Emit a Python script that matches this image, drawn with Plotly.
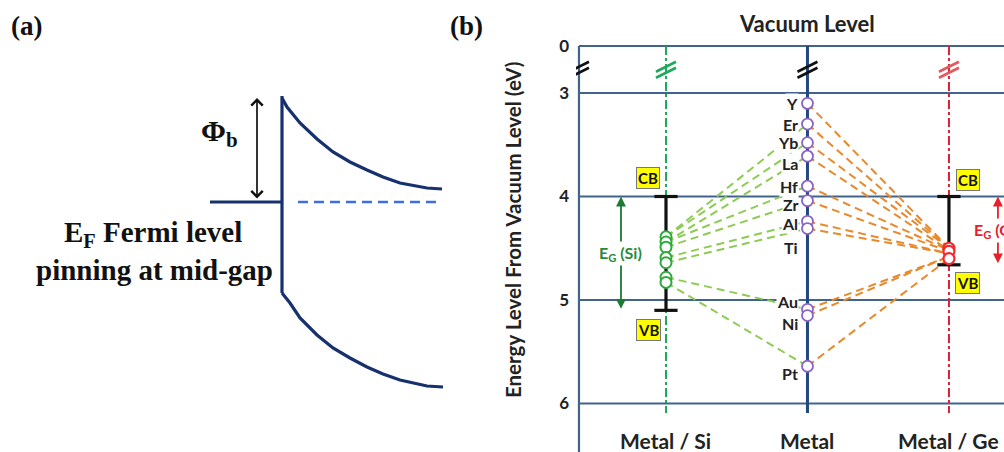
import plotly.graph_objects as go

W, H = 1004, 452

# ---------------- panel (a): schematic band diagram (panel pixel units) ----------------
cb_x = [282, 287, 300, 317, 333, 350, 367, 383, 400, 427, 442]
cb_y = [98, 107, 123, 139, 152, 162, 170, 177, 183, 188, 189]
vb_x = [282, 290, 300, 317, 333, 350, 367, 383, 400, 427, 443]
vb_y = [293, 303, 318, 335, 348, 358, 367, 374, 380, 386, 387]
junction_x = [282, 282]
junction_y = [96, 293]
metal_ef_x = [210, 282]
semi_ef_x = [298, 437]
ef_y = [202, 202]
phi_x = 257
phi_y = [98, 200]

# ---------------- panel (b): energy levels (eV below vacuum) ----------------
metals = ["Y", "Er", "Yb", "La", "Hf", "Zr", "Al", "Ti", "Au", "Ni", "Pt"]
metal_level = [3.10, 3.30, 3.48, 3.61, 3.90, 4.04, 4.24, 4.31, 5.09, 5.15, 5.64]
label_offset = [0, 0, 0, 7, 0, 4, 2, 19, -8, 8, 7]          # label nudge, px
si_pinned = [None, 4.39, 4.39, 4.44, 4.44, 4.49, 4.59, 4.64, 4.78, None, 4.83]
ge_pinned = [4.50, 4.50, 4.50, 4.52, 4.52, 4.53, 4.55, 4.55, 4.58, 4.58, 4.60]
si_points = [4.39, 4.44, 4.49, 4.59, 4.64, 4.78, 4.83]
ge_points = [4.50, 4.53, 4.60]
si_cb, si_vb = 4.0, 5.1
ge_cb, ge_vb = 4.0, 4.66
columns = ["Metal / Si", "Metal", "Metal / Ge"]
col_x = [0, 1, 2]
tick_vals = [0, 3, 4, 5, 6]

VAC_POS = 2.546          # where the (broken) 0 eV level is drawn
Y_RANGE = [6.4686, 2.1014]
X_LEFT_AXIS = -0.615
X_RANGE = [-0.636, 2.389]
LINE_BOTTOM = 6.092

def disp(v):
    return VAC_POS if v == 0 else v

NAVY = "#17306e"
GRID = "#41648f"
METAL_LINE = "#23487e"
SI_GREEN = "#1fa85a"
SI_LINK = "#8dcb55"
SI_MARK = "#2faa3c"
GE_RED = "#d8203a"
GE_LINK = "#e8892c"
PURPLE = "#8a63c4"
SANS = "Lato"
SERIF = "Liberation Serif"

fig = go.Figure()

# ---- panel (a) traces ----
for xs, ys in [(cb_x, cb_y), (vb_x, vb_y), (junction_x, junction_y), (metal_ef_x, ef_y)]:
    fig.add_trace(go.Scatter(x=xs, y=ys, mode="lines", line=dict(color=NAVY, width=3.2),
                             xaxis="x", yaxis="y", hoverinfo="skip", showlegend=False))
fig.add_trace(go.Scatter(x=semi_ef_x, y=ef_y, mode="lines",
                         line=dict(color="#3f6fe0", width=2.6, dash="10px,6px"),
                         xaxis="x", yaxis="y", hoverinfo="skip", showlegend=False))

# ---- panel (b) traces ----
# column lines
fig.add_trace(go.Scatter(x=[0, 0], y=[VAC_POS, LINE_BOTTOM], mode="lines",
                         line=dict(color=SI_GREEN, width=2, dash="dashdot"),
                         xaxis="x2", yaxis="y2", hoverinfo="skip", showlegend=False))
fig.add_trace(go.Scatter(x=[2, 2], y=[VAC_POS, LINE_BOTTOM], mode="lines",
                         line=dict(color=GE_RED, width=2, dash="dashdot"),
                         xaxis="x2", yaxis="y2", hoverinfo="skip", showlegend=False))
fig.add_trace(go.Scatter(x=[1, 1], y=[VAC_POS, LINE_BOTTOM], mode="lines",
                         line=dict(color=METAL_LINE, width=3),
                         xaxis="x2", yaxis="y2", hoverinfo="skip", showlegend=False))

# pinning links metal -> semiconductor
for lvl, s in zip(metal_level, si_pinned):
    if s is not None:
        fig.add_trace(go.Scatter(x=[0, 1], y=[s, lvl], mode="lines",
                                 line=dict(color=SI_LINK, width=2, dash="8px,5px"),
                                 xaxis="x2", yaxis="y2", hoverinfo="skip", showlegend=False))
for lvl, g in zip(metal_level, ge_pinned):
    fig.add_trace(go.Scatter(x=[1, 2], y=[lvl, g], mode="lines",
                             line=dict(color=GE_LINK, width=2, dash="8px,5px"),
                             xaxis="x2", yaxis="y2", hoverinfo="skip", showlegend=False))

# band-gap bars
for cx, top, bot in [(0, si_cb, si_vb), (2, ge_cb, ge_vb)]:
    fig.add_trace(go.Scatter(x=[cx, cx], y=[top, bot], mode="lines",
                             line=dict(color="#111", width=3.2),
                             xaxis="x2", yaxis="y2", hoverinfo="skip", showlegend=False))
    for yy in (top, bot):
        fig.add_trace(go.Scatter(x=[cx - 0.082, cx + 0.082], y=[yy, yy], mode="lines",
                                 line=dict(color="#111", width=3.2),
                                 xaxis="x2", yaxis="y2", hoverinfo="skip", showlegend=False))

# level markers
fig.add_trace(go.Scatter(x=[0] * len(si_points), y=si_points, mode="markers",
                         marker=dict(size=11, color="white", line=dict(color=SI_MARK, width=2)),
                         xaxis="x2", yaxis="y2", hoverinfo="skip", showlegend=False))
fig.add_trace(go.Scatter(x=[2] * len(ge_points), y=ge_points, mode="markers",
                         marker=dict(size=11, color="white", line=dict(color="#f02a30", width=2.2)),
                         xaxis="x2", yaxis="y2", hoverinfo="skip", showlegend=False))
fig.add_trace(go.Scatter(x=[1] * len(metals), y=metal_level, mode="markers",
                         marker=dict(size=11, color="white", line=dict(color=PURPLE, width=1.8)),
                         xaxis="x2", yaxis="y2", hoverinfo="skip", showlegend=False))

shapes = []
# energy grid lines (including the broken vacuum level)
for v in tick_vals:
    shapes.append(dict(type="line", xref="x2", yref="y2", x0=X_LEFT_AXIS, x1=X_RANGE[1],
                       y0=disp(v), y1=disp(v), line=dict(color=GRID, width=2.2), layer="below"))
# left axis line
shapes.append(dict(type="line", xref="x2", yref="y2", x0=X_LEFT_AXIS, x1=X_LEFT_AXIS,
                   y0=VAC_POS, y1=Y_RANGE[0], line=dict(color=GRID, width=2.2), layer="below"))
# axis-break marks
break_y = 2.775
for bx, col in [(X_LEFT_AXIS, "#111"), (0, SI_GREEN), (1, "#111"), (2, "#e05a60")]:
    for dy in (-3, 3):
        shapes.append(dict(type="line", xref="x2", yref="y2", xsizemode="pixel", ysizemode="pixel",
                           xanchor=bx, yanchor=break_y, x0=-10, x1=10, y0=dy - 5, y1=dy + 5,
                           line=dict(color=col, width=2.6)))

ann = []
def text(x, y, s, size, color="#222", family=SANS, xref="x2", yref="y2", **kw):
    d = dict(x=x, y=y, text=s, xref=xref, yref=yref, showarrow=False,
             xanchor="center", yanchor="middle",
             font=dict(family=family, size=size, color=color))
    d.update(kw)
    ann.append(d)

# panel labels
text(26 / W, 1 - 26 / H, "<b>(a)</b>", 27, "#111", SERIF, "paper", "paper")
text(466 / W, 1 - 26 / H, "<b>(b)</b>", 27, "#111", SERIF, "paper", "paper")

# panel (a) texts and barrier arrow
ann.append(dict(x=phi_x, y=phi_y[0], ax=phi_x, ay=phi_y[1], xref="x", yref="y", axref="x", ayref="y",
                showarrow=True, arrowhead=4, arrowside="end+start", arrowsize=1.3, arrowwidth=1.7,
                arrowcolor="#111", text=""))
text(219, 133, "<b>Φ<sub>b</sub></b>", 30, "#111", SERIF, "x", "y")
text(153, 234, "<b>E<sub>F</sub> Fermi level</b>", 29, "#111", SERIF, "x", "y")
text(154, 270, "<b>pinning at mid-gap</b>", 29, "#111", SERIF, "x", "y")

# panel (b) titles
text(1, 2.324, "<b>Vacuum Level</b>", 22)
for cx, name in zip(col_x, columns):
    text(cx, 6.353, f"<b>{name}</b>", 21)
text(513 / W, 1 - 230 / H, "<b>Energy Level From Vacuum Level (eV)</b>", 20.5, "#222", SANS,
     "paper", "paper", textangle=-90)

# metal names
for name, lvl, off in zip(metals, metal_level, label_offset):
    text(1, lvl, f"<b>{name}</b>", 16, "#222", xanchor="right", xshift=-8, yshift=-off,
         bgcolor="white", borderpad=0)

# band-edge tags
for cx, y, tag in [(0, si_cb - 0.18, "CB"), (0, si_vb + 0.19, "VB"),
                   (2 + 0.134, ge_cb - 0.16, "CB"), (2 + 0.134, ge_vb + 0.18, "VB")]:
    text(cx - (0.127 if cx == 0 else 0), y, f"<b>{tag}</b>", 15, "#111",
         bgcolor="#ffff00", bordercolor="#777", borderwidth=1, borderpad=1)

# band-gap arrows
for ax_x, top, bot, col in [(-0.318, si_cb, si_vb, "#1e7a32"), (2.346, ge_cb, ge_vb, "#e8202a")]:
    ann.append(dict(x=ax_x, y=top, ax=ax_x, ay=bot, xref="x2", yref="y2", axref="x2", ayref="y2",
                    showarrow=True, arrowhead=2, arrowside="end+start", arrowsize=1.1, arrowwidth=1.8,
                    arrowcolor=col, text=""))
text(-0.318, (si_cb + si_vb) / 2, "<b>E<sub>G</sub> (Si)</b>", 16, "#2a8a3a", bgcolor="white")
text(2.163, (ge_cb + ge_vb) / 2, "<b>E<sub>G</sub> (Ge)</b>", 16, "#e8202a", xanchor="left",
     bgcolor="white")

fig.update_layout(
    width=W, height=H, margin=dict(l=0, r=0, t=0, b=0),
    paper_bgcolor="white", plot_bgcolor="rgba(0,0,0,0)",
    xaxis=dict(domain=[0, 460 / W], range=[0, 460], visible=False, fixedrange=True),
    yaxis=dict(domain=[0, 1], range=[H, 0], visible=False, fixedrange=True),
    xaxis2=dict(domain=[576 / W, 1], range=X_RANGE, visible=False, anchor="y2"),
    yaxis2=dict(domain=[0, 1], range=Y_RANGE, anchor="x2", showgrid=False, zeroline=False,
                showline=False, ticks="", tickvals=[disp(v) for v in tick_vals],
                ticktext=[str(v) for v in tick_vals], ticklabelstandoff=6,
                tickfont=dict(family=SANS, size=17, color="#222", weight="bold")),
    shapes=shapes, annotations=ann, showlegend=False,
)

fig.write_html("out.html")
